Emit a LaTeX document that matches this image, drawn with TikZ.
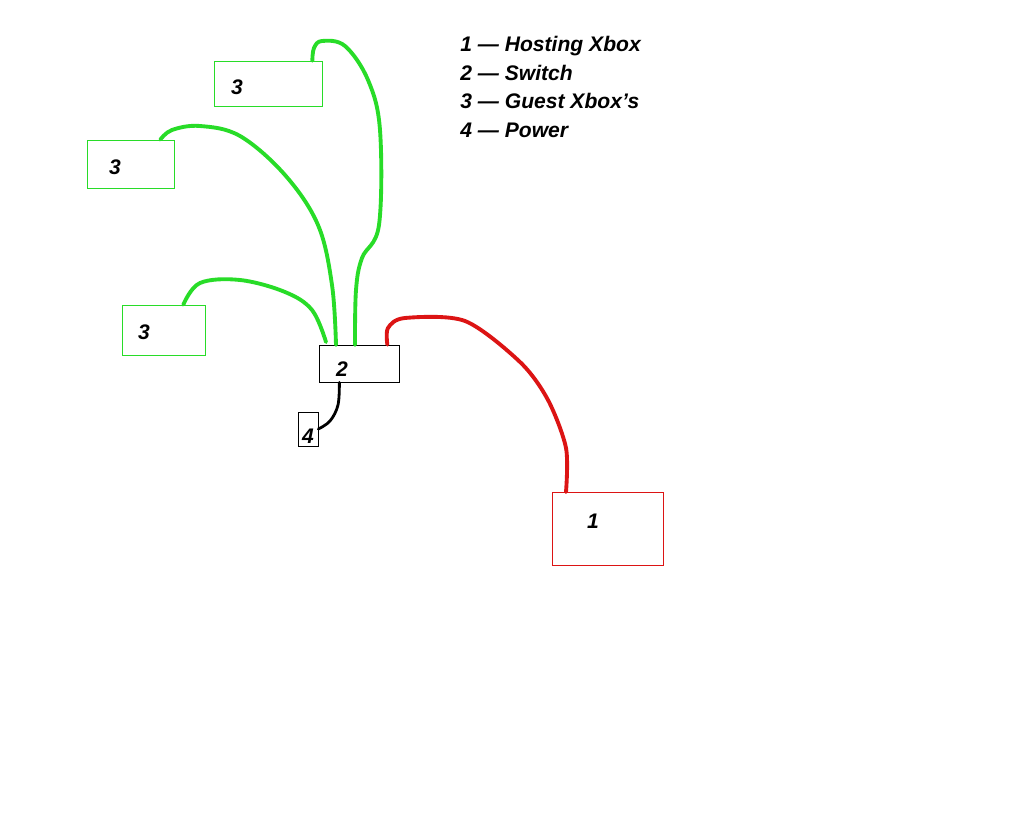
\documentclass[tikz,border=0pt]{standalone}
\usepackage{fontspec}
\setmainfont{Liberation Sans}
\usetikzlibrary{positioning}
\definecolor{wiregreen}{RGB}{40,220,40}
\definecolor{wirered}{RGB}{220,20,20}
\tikzstyle{guest} = [rectangle, draw=wiregreen, inner sep=0pt]
\tikzstyle{host} = [rectangle, draw=wirered, inner sep=0pt]
\tikzstyle{plain} = [rectangle, draw=black, inner sep=0pt]
\tikzstyle{num} = [font=\fontsize{12}{14}\selectfont\bfseries\itshape, inner sep=0pt]
\tikzstyle{gwire} = [draw=wiregreen, line width=2.2pt, line cap=round, line join=round]
\tikzstyle{rwire} = [draw=wirered, line width=2.2pt, line cap=round, line join=round]
\tikzstyle{bwire} = [draw=black, line width=1.6pt, line cap=round, line join=round]

\begin{document}
\begin{tikzpicture}[x=0.02cm, y=-0.02cm]
    \useasboundingbox[fill=white] (0,0) rectangle (1024,817);

    % boxes
    \node (g1) [guest, minimum width=2.16cm, minimum height=0.9cm] at (268,83.5) {};
    \node (g2) [guest, minimum width=1.74cm, minimum height=0.96cm] at (130.5,164) {};
    \node (g3) [guest, minimum width=1.66cm, minimum height=1cm] at (163.5,330) {};
    \node (sw) [plain, minimum width=1.6cm, minimum height=0.74cm] at (359,363.5) {};
    \node (pw) [plain, minimum width=0.4cm, minimum height=0.68cm] at (308,429) {};
    \node (hx) [host, minimum width=2.22cm, minimum height=1.46cm] at (607.5,528.5) {};

    % numbers
    \node [num] at (237,87) {3};
    \node [num] at (115,167) {3};
    \node [num] at (144,332) {3};
    \node [num] at (342,369) {2};
    \node [num] at (308,436) {4};
    \node [num] at (593,521) {1};

    % legend
    \node (key) [num, anchor=north west, align=left, font=\fontsize{12}{16.2}\selectfont\bfseries\itshape] at (460,36)
        {1 --- Hosting Xbox\\2 --- Switch\\3 --- Guest Xbox's\\4 --- Power};

    % wires
    \draw[gwire] plot[smooth, tension=0.6] coordinates {([xshift=-0.2cm]g1.north east) (314,48) (322,41) (345,46) (368,80) (380,130) (379,225) (362,258) (356,290) (355,345)};
    \draw[gwire] plot[smooth, tension=0.6] coordinates {([xshift=-0.28cm]g2.north east) (172,130) (200,126) (240,136) (285,175) (318,225) (332,285) (336,345)};
    \draw[gwire] plot[smooth, tension=0.6] coordinates {([xshift=-0.44cm]g3.north east) (200,283) (240,280) (285,292) (312,310) (326,342)};
    \draw[rwire] plot[smooth, tension=0.5] coordinates {([xshift=-0.24cm]sw.north east) (388,328) (405,318) (465,321) (520,362) (548,400) (566,448) (566,492)};
    \draw[bwire] plot[smooth, tension=0.6] coordinates {([xshift=-1.2cm]sw.south east) (338,405) (330,421) (pw.east)};
\end{tikzpicture}
\end{document}
